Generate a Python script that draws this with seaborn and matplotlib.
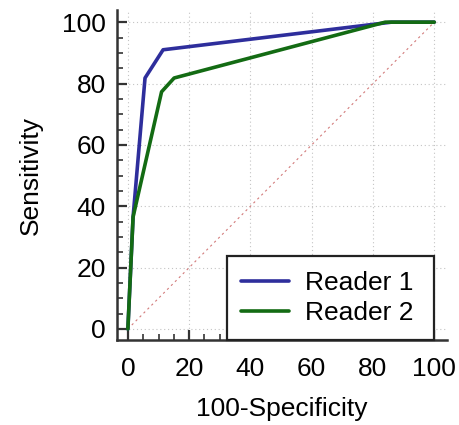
import pandas as pd
import numpy as np
import seaborn as sns
from matplotlib import pyplot as plt

# ROC points (100-specificity, sensitivity)
r1_fpr = [0, 1.7, 5.6, 11.5, 86.0, 100]
r1_sens = [0, 36.5, 81.8, 91.0, 100, 100]
r2_fpr = [0, 1.7, 11.0, 15.1, 84.0, 100]
r2_sens = [0, 36.5, 77.3, 81.8, 100, 100]
readers = ['Reader 1', 'Reader 2']
colors = ['#2e2e9c', '#136b13']

df = pd.concat([
    pd.DataFrame({'fpr': r1_fpr, 'sens': r1_sens, 'reader': readers[0]}),
    pd.DataFrame({'fpr': r2_fpr, 'sens': r2_sens, 'reader': readers[1]}),
])

sns.set_style('ticks')
plt.rcParams['font.family'] = ['Liberation Sans', 'DejaVu Sans']
plt.rcParams['text.color'] = 'black'
plt.rcParams['axes.labelcolor'] = 'black'
plt.rcParams['xtick.labelcolor'] = 'black'
plt.rcParams['ytick.labelcolor'] = 'black'

fig = plt.figure(figsize=(4.6, 4.25), dpi=100)
ax = fig.add_axes([0.254, 0.2, 0.718, 0.776])

# grid at major ticks
for v in [0, 20, 40, 60, 80, 100]:
    ax.axvline(v, color='#c4c4c4', lw=0.8, ls=(0, (1, 2.5)), zorder=0)
    ax.axhline(v, color='#c4c4c4', lw=0.8, ls=(0, (1, 2.5)), zorder=0)

# chance diagonal
ax.plot([0, 100], [0, 100], color='#d27a7a', lw=0.8, ls=(0, (2, 3)), zorder=1)

sns.lineplot(data=df, x='fpr', y='sens', hue='reader', palette=colors,
             estimator=None, sort=False, lw=2.6, ax=ax, zorder=3)

ax.set_xlim(-3.6, 104.2)
ax.set_ylim(-3.6, 103.9)
ax.set_xticks([0, 20, 40, 60, 80, 100])
ax.set_yticks([0, 20, 40, 60, 80, 100])
ax.set_xticks(np.arange(0, 101, 5), minor=True)
ax.set_yticks(np.arange(0, 101, 5), minor=True)
ax.tick_params(which='major', direction='in', length=7.5, width=1.6,
               color='#333333', labelsize=19)
ax.tick_params(axis='x', which='major', pad=12)
ax.tick_params(axis='y', which='major', pad=8)
ax.tick_params(which='minor', direction='in', length=4.5, width=1.2,
               color='#333333')
sns.despine(ax=ax)
for s in ['left', 'bottom']:
    ax.spines[s].set_linewidth(1.8)
    ax.spines[s].set_color('#333333')

ax.set_xlabel('100-Specificity', fontsize=19, labelpad=12)
ax.set_ylabel('Sensitivity', fontsize=19, labelpad=14)

leg = ax.legend(loc='lower left', bbox_to_anchor=(0.333, 0.0, 0.628, 0.26),
                mode='expand', borderaxespad=0, fontsize=19, handlelength=1.8,
                fancybox=False, framealpha=1, edgecolor='#222222',
                labelspacing=0.25, borderpad=0.55, handletextpad=0.6)
leg.get_frame().set_linewidth(1.6)
for h in leg.get_lines():
    h.set_linewidth(2.6)
leg.set_zorder(5)

fig.savefig('out.png', dpi=100)
